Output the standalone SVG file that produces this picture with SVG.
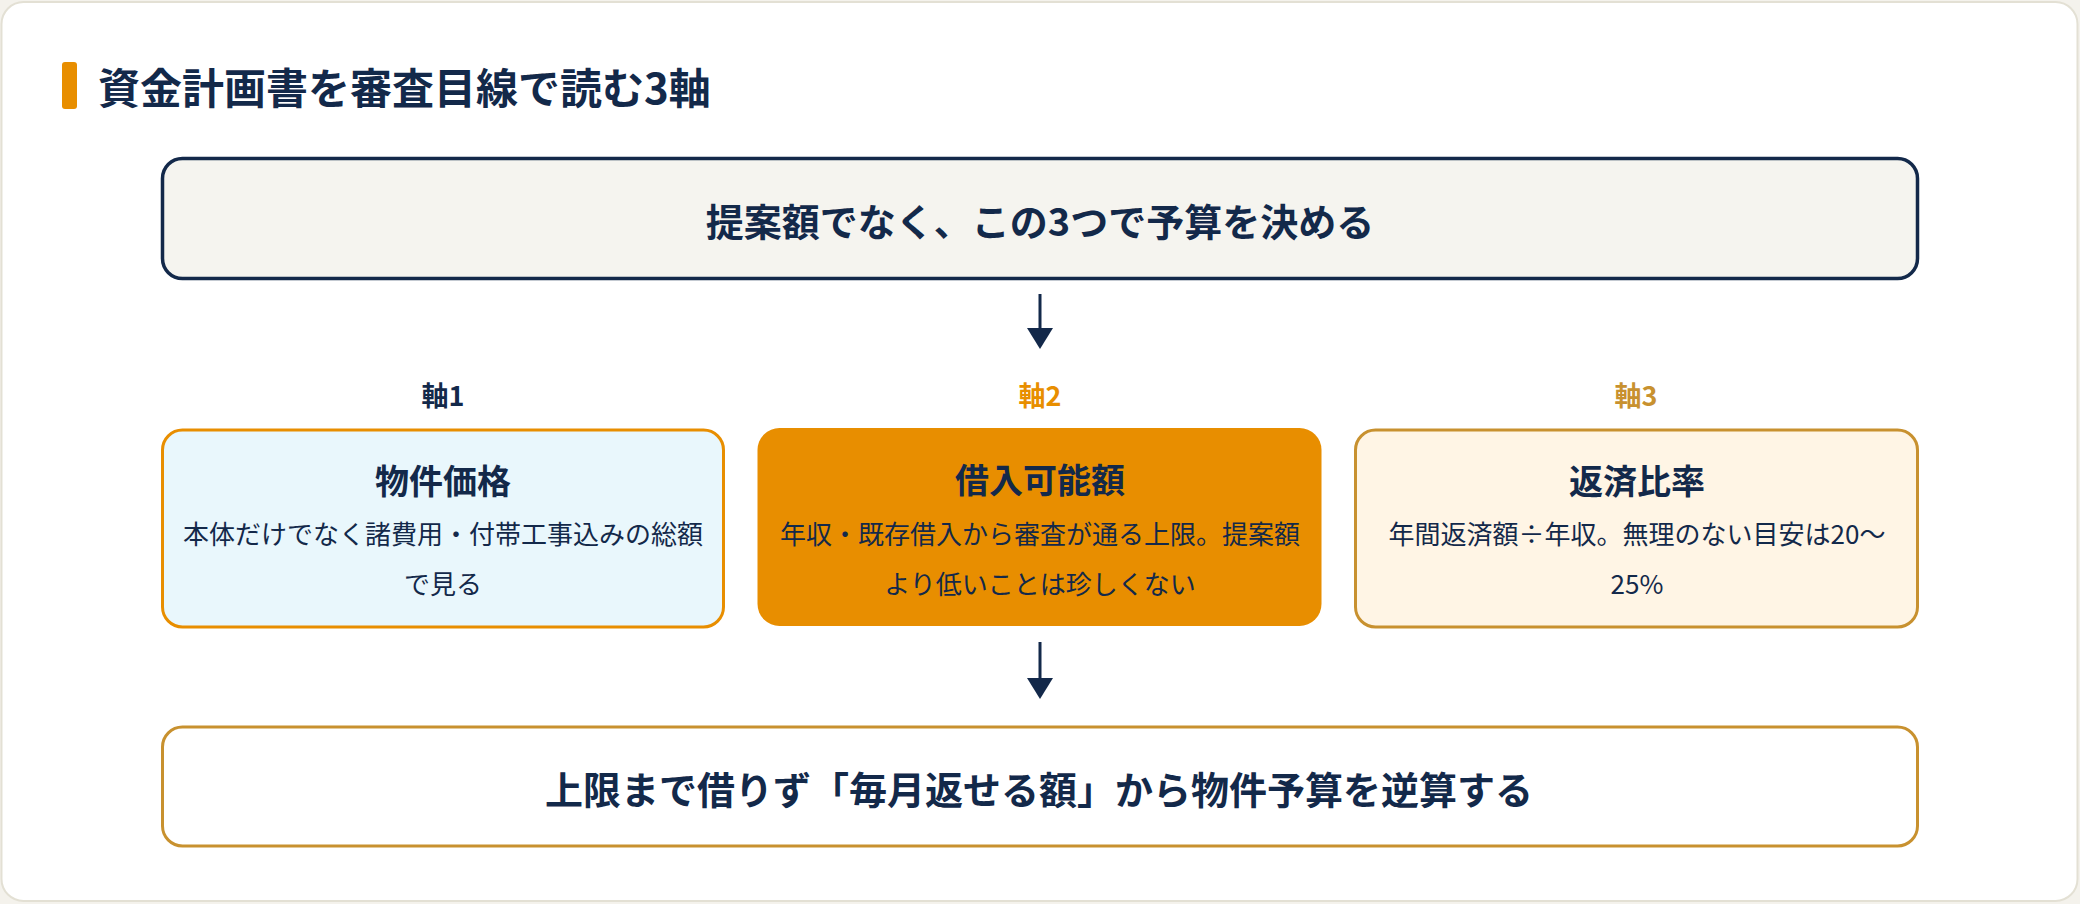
<svg xmlns="http://www.w3.org/2000/svg" width="2080" height="904" viewBox="0 0 2080 904">
<defs>
<style>
text{font-family:"Noto Sans CJK JP","Noto Sans",sans-serif;fill:#13294a;text-anchor:middle}
.title{font-size:42px;font-weight:700;text-anchor:start}
.lead{font-size:38px;font-weight:700}
.axis{font-size:27px;font-weight:700}
.h{font-size:34px;font-weight:700}
.d{font-size:26px;font-weight:400}
.conn{stroke:#13294a;stroke-width:3;fill:none}
</style>
<marker id="ah" viewBox="0 0 21 26" refX="0" refY="13" markerWidth="21" markerHeight="26" markerUnits="userSpaceOnUse" orient="auto">
<path d="M0,0 L21,13 L0,26 z" fill="#13294a"/>
</marker>
</defs>
<rect x="0" y="0" width="2080" height="904" fill="#f4f2ec"/>
<rect x="1.5" y="2" width="2076" height="899" rx="22" fill="#ffffff" stroke="#e3e0d4" stroke-width="2"/>
<g id="title">
<rect x="62" y="62" width="15" height="47" rx="3" fill="#e88e00"/>
<text class="title" x="98" y="104">資金計画書を審査目線で読む3軸</text>
</g>
<g id="lead">
<rect x="162.5" y="158.5" width="1755" height="120" rx="20" fill="#f5f4ef" stroke="#13294a" stroke-width="3.5"/>
<text class="lead" x="1040" y="236">提案額でなく、この3つで予算を決める</text>
</g>
<g id="axis1">
<text class="axis" x="443" y="406">軸1</text>
<rect x="162.5" y="430" width="561" height="197" rx="20" fill="#e9f7fc" stroke="#e88e00" stroke-width="3"/>
<text class="h" x="443" y="494">物件価格</text>
<text class="d" x="443" y="544">本体だけでなく諸費用・付帯工事込みの総額</text>
<text class="d" x="443" y="594">で見る</text>
</g>
<g id="axis2">
<text class="axis" x="1040" y="406" style="fill:#e88e00">軸2</text>
<rect x="757.5" y="428" width="564" height="198" rx="22" fill="#e88e00"/>
<text class="h" x="1040" y="493">借入可能額</text>
<text class="d" x="1040" y="544">年収・既存借入から審査が通る上限。提案額</text>
<text class="d" x="1040" y="594">より低いことは珍しくない</text>
</g>
<g id="axis3">
<text class="axis" x="1636" y="406" style="fill:#c8912f">軸3</text>
<rect x="1355.5" y="430" width="562" height="197" rx="20" fill="#fff5e5" stroke="#c8912f" stroke-width="3"/>
<text class="h" x="1637" y="494">返済比率</text>
<text class="d" x="1637" y="544">年間返済額÷年収。無理のない目安は20〜</text>
<text class="d" x="1637" y="594">25%</text>
</g>
<g id="conclusion">
<rect x="162.5" y="727" width="1755" height="119" rx="20" fill="#ffffff" stroke="#c8912f" stroke-width="3"/>
<text class="lead" x="1039" y="804">上限まで借りず「毎月返せる額」から物件予算を逆算する</text>
</g>
<g id="connectors">
<line class="conn" x1="1040" y1="294" x2="1040" y2="328" marker-end="url(#ah)"/>
<line class="conn" x1="1040" y1="642" x2="1040" y2="678" marker-end="url(#ah)"/>
</g>
</svg>
